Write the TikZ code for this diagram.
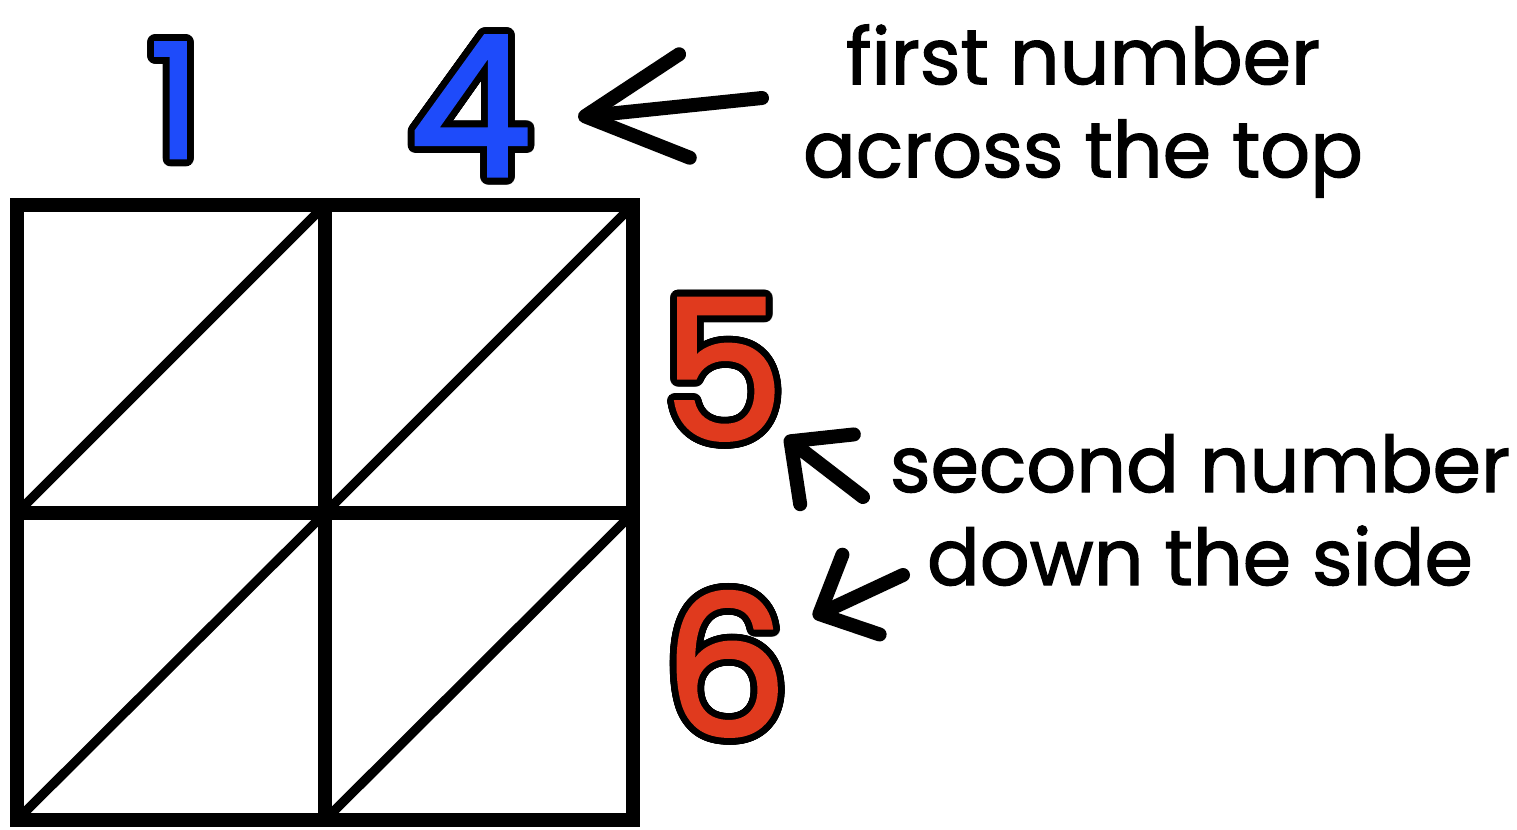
\documentclass[tikz,border=0pt]{standalone}
\usepackage{fontspec}
\setmainfont{Poppins}
\newfontfamily\trazo{Poppins}[FakeBold=1.6]
\usepackage{contour}
\contourlength{3.4pt}
\contournumber{40}
\usetikzlibrary{arrows.meta,positioning}
\definecolor{azul}{HTML}{1E4BFA}
\definecolor{rojo}{HTML}{E03A1E}
\newcommand{\cifra}[2]{\textcolor{#1}{\contour{black}{#2}}}

\begin{document}
\begin{tikzpicture}[x=0.5pt,y=-0.5pt,
          line cap=round,
          rejilla/.style={line width=7pt,line cap=rect,line join=miter},
          diag/.style={line width=4.7pt,line cap=butt},
          num/.style={inner sep=0pt,anchor=base,font=\fontsize{98}{98}\trazo},
          lab/.style={align=center,inner sep=0pt,font=\fontsize{39}{46.5}\trazo},
          arr/.style={-{Straight Barb[round,length=50pt,width=52pt]},line width=7pt},
          arrsm/.style={-{Straight Barb[round,length=23pt,width=44pt]},line width=7pt}]
        \useasboundingbox (0,0) rectangle (1517,830);
        % the lattice
        \draw[rejilla] (17,205) rectangle (633,820);
        \draw[rejilla] (325,205) -- (325,820);
        \draw[rejilla] (17,513) -- (633,513);
        \draw[diag] (24,506) -- (318,212);
        \draw[diag] (332,506) -- (626,212);
        \draw[diag] (24,813) -- (318,520);
        \draw[diag] (332,813) -- (626,520);
        % the numbers
        \node[num,font=\fontsize{80}{80}\trazo] (one) at (175,158) {\cifra{azul}{1}};
        \node[num] (four) at (470,176) {\cifra{azul}{4}};
        \node[num] (five) at (723,440) {\cifra{rojo}{5}};
        \node[num] (six) at (726,736) {\cifra{rojo}{6}};
        % the notes
        \node[lab] (top) at (1083,111) {first number\\across the top};
        \node[lab] (side) at (1200,510) {second number\\down the side};
        \coordinate (tail1) at (762,98);
        \coordinate (tip1) at (578,117);
        \coordinate (tail2) at (863,497);
        \coordinate (tip2) at (785,437);
        \coordinate (tail3) at (903,575);
        \coordinate (tip3) at (813,617);
        \draw[arr] (tail1) -- (tip1);
        \draw[arrsm] (tail2) -- (tip2);
        \draw[arrsm] (tail3) -- (tip3);
      \end{tikzpicture}
\end{document}
